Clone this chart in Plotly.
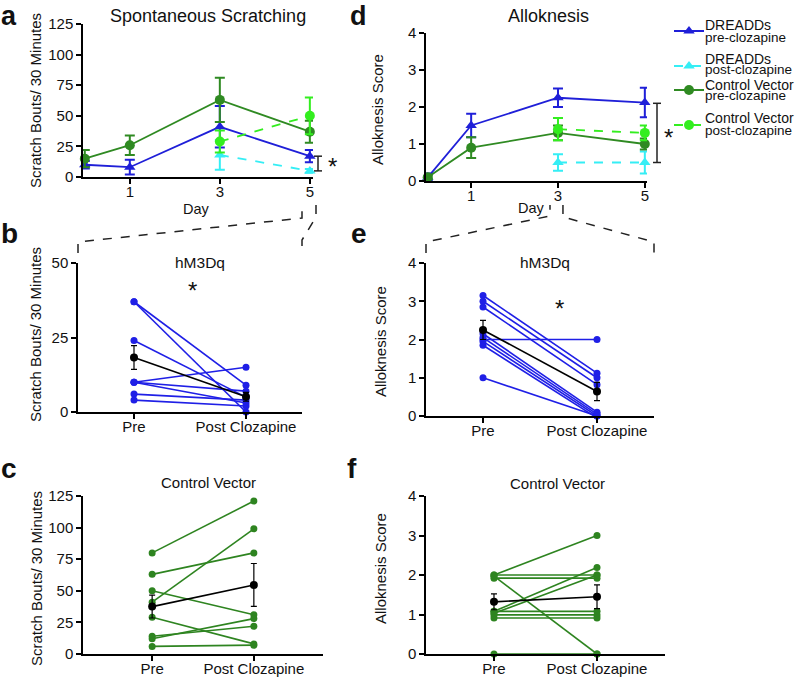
import plotly.graph_objects as go

W, H = 800, 679
FONT = "Liberation Sans, Arial, sans-serif"

def fx(px):
    return px / W

def fy(py):
    return 1 - py / H

# ---------------- data ----------------
days_pre = [0, 1, 3, 5]
days_post = [3, 5]

scratch_dreadd_pre = [10, 8, 41, 17]
scratch_dreadd_pre_err = [3, 6, 17, 5]
scratch_dreadd_post = [18, 5]
scratch_dreadd_post_err = [12, 1.5]
scratch_ctrl_pre = [15, 26, 63, 37]
scratch_ctrl_pre_err = [7, 8, 18, 9]
scratch_ctrl_post = [29, 50]
scratch_ctrl_post_err = [9, 15]

allo_dreadd_pre = [0.1, 1.5, 2.25, 2.12]
allo_dreadd_pre_err = [0.1, 0.32, 0.25, 0.4]
allo_dreadd_post = [0.5, 0.5]
allo_dreadd_post_err = [0.22, 0.3]
allo_ctrl_pre = [0.1, 0.9, 1.3, 1.0]
allo_ctrl_pre_err = [0.05, 0.28, 0.2, 0.15]
allo_ctrl_post = [1.4, 1.3]
allo_ctrl_post_err = [0.3, 0.2]

hm3dq_scratch_pre = [37, 37, 24, 10, 10, 10, 6, 4]
hm3dq_scratch_post = [9, 0, 5, 15, 7, 3, 4, 2]
hm3dq_scratch_mean = [18.3, 5.1]
hm3dq_scratch_sem = [4.0, 1.5]

hm3dq_allo_pre = [3.15, 3.0, 2.85, 2.0, 2.15, 2.05, 1.95, 1.85, 1.0]
hm3dq_allo_post = [1.12, 1.0, 0.82, 2.0, 0.1, 0.05, 0.0, -0.05, 0.0]
hm3dq_allo_mean = [2.25, 0.64]
hm3dq_allo_sem = [0.25, 0.24]

ctrl_scratch_pre = [80, 63, 41, 50, 29, 14, 12, 6]
ctrl_scratch_post = [121, 80, 99, 31, 8, 22, 28, 7]
ctrl_scratch_mean = [37.5, 54.6]
ctrl_scratch_sem = [9, 17]

ctrl_allo_pre = [2.0, 2.0, 1.92, 1.97, 1.08, 1.03, 1.08, 0.99, 0.91, 0.0]
ctrl_allo_post = [3.0, 2.0, 1.92, 0.0, 2.19, 2.0, 1.08, 0.99, 0.91, 0.0]
ctrl_allo_mean = [1.32, 1.45]
ctrl_allo_sem = [0.2, 0.3]

phase_vals = [0, 1]
phase_labels = ["Pre", "Post Clozapine"]
day_ticks = [1, 3, 5]

legend_line1 = ["DREADDs", "DREADDs", "Control Vector", "Control Vector"]
legend_line2 = ["pre-clozapine", "post-clozapine", "pre-clozapine", "post-clozapine"]

BLUE = "#1f1fd8"
CYAN = "#35eef5"
DKGREEN = "#2f8a22"
LTGREEN = "#33ee1f"
PBLUE = "#1f1fe6"
PGREEN = "#2e8420"

fig = go.Figure()

def series(x, y, err, color, symbol, dash, xa, ya, legend=None):
    fig.add_trace(go.Scatter(
        x=x, y=y, mode="lines+markers", name="",
        line=dict(color=color, width=1.8, dash=dash),
        marker=dict(color=color, symbol=symbol, size=10),
        error_y=dict(type="data", array=err, color=color, thickness=2, width=5),
        xaxis=xa, yaxis=ya, showlegend=legend is not None,
        legend=legend if legend else "legend", cliponaxis=False,
    ))

# panel a (carries the legend keys)
series(days_pre, scratch_dreadd_pre, scratch_dreadd_pre_err, BLUE, "triangle-up", "solid", "x", "y", "legend")
series(days_post, scratch_dreadd_post, scratch_dreadd_post_err, CYAN, "triangle-up", "dash", "x", "y", "legend2")
series(days_pre, scratch_ctrl_pre, scratch_ctrl_pre_err, DKGREEN, "circle", "solid", "x", "y", "legend3")
series(days_post, scratch_ctrl_post, scratch_ctrl_post_err, LTGREEN, "circle", "dash", "x", "y", "legend4")
# panel d
series(days_pre, allo_dreadd_pre, allo_dreadd_pre_err, BLUE, "triangle-up", "solid", "x2", "y2")
series(days_post, allo_dreadd_post, allo_dreadd_post_err, CYAN, "triangle-up", "dash", "x2", "y2")
series(days_pre, allo_ctrl_pre, allo_ctrl_pre_err, DKGREEN, "circle", "solid", "x2", "y2")
series(days_post, allo_ctrl_post, allo_ctrl_post_err, LTGREEN, "circle", "dash", "x2", "y2")

def paired(pre, post, mean, sem, color, xa, ya):
    xs, ys = [], []
    for a, b in zip(pre, post):
        xs += [phase_vals[0], phase_vals[1], None]
        ys += [a, b, None]
    fig.add_trace(go.Scatter(
        x=xs, y=ys, mode="lines+markers",
        line=dict(color=color, width=1.6),
        marker=dict(color=color, size=7),
        xaxis=xa, yaxis=ya, showlegend=False, cliponaxis=False,
    ))
    fig.add_trace(go.Scatter(
        x=phase_vals, y=mean, mode="lines+markers",
        line=dict(color="black", width=1.6),
        marker=dict(color="black", size=8),
        error_y=dict(type="data", array=sem, color="black", thickness=1.2, width=3),
        xaxis=xa, yaxis=ya, showlegend=False, cliponaxis=False,
    ))

paired(hm3dq_scratch_pre, hm3dq_scratch_post, hm3dq_scratch_mean, hm3dq_scratch_sem, PBLUE, "x3", "y3")
paired(hm3dq_allo_pre, hm3dq_allo_post, hm3dq_allo_mean, hm3dq_allo_sem, PBLUE, "x4", "y4")
paired(ctrl_scratch_pre, ctrl_scratch_post, ctrl_scratch_mean, ctrl_scratch_sem, PGREEN, "x5", "y5")
paired(ctrl_allo_pre, ctrl_allo_post, ctrl_allo_mean, ctrl_allo_sem, PGREEN, "x6", "y6")

axis_common = dict(
    showline=True, linecolor="black", linewidth=1.5,
    ticks="outside", ticklen=5, tickwidth=1.5, tickcolor="black",
    showgrid=False, zeroline=False, automargin=False,
    tickfont=dict(family=FONT, size=15, color="#111"),
)

def xax(px0, px1, rng, tickvals, ticktext, anchor):
    d = dict(axis_common)
    d.update(domain=[fx(px0), fx(px1)], range=rng, tickvals=tickvals,
             ticktext=ticktext, anchor=anchor, ticklabelstandoff=-5)
    return d

def yax(py_bottom, py_top, rng, tickvals, anchor):
    d = dict(axis_common)
    d.update(domain=[fy(py_bottom), fy(py_top)], range=rng, tickvals=tickvals, anchor=anchor)
    return d

def leg(py):
    return dict(x=fx(669), y=fy(py), xanchor="left", yanchor="middle",
                font=dict(family=FONT, size=12, color="#111"),
                bgcolor="rgba(0,0,0,0)", itemwidth=30, borderwidth=0)

fig.update_layout(
    template="none",
    width=W, height=H,
    margin=dict(l=0, r=0, t=0, b=0, pad=0, autoexpand=False),
    paper_bgcolor="white", plot_bgcolor="white",
    font=dict(family=FONT, color="#111"),
    xaxis=xax(83, 313, [-0.04, 5.07], day_ticks, [str(v) for v in day_ticks], "y"),
    yaxis=yax(177, 24, [0, 125], [0, 25, 50, 75, 100, 125], "x"),
    xaxis2=xax(426, 647, [-0.04, 5.05], day_ticks, [str(v) for v in day_ticks], "y2"),
    yaxis2=yax(181, 33, [0, 4], [0, 1, 2, 3, 4], "x2"),
    xaxis3=xax(78, 302, [-0.5, 1.5], phase_vals, phase_labels, "y3"),
    yaxis3=yax(412, 263, [0, 50], [0, 25, 50], "x3"),
    xaxis4=xax(426, 654, [-0.5, 1.5], phase_vals, phase_labels, "y4"),
    yaxis4=yax(416, 263, [0, 4], [0, 1, 2, 3, 4], "x4"),
    xaxis5=xax(83, 323, [-0.68, 1.68], phase_vals, phase_labels, "y5"),
    yaxis5=yax(654, 496, [0, 125], [0, 25, 50, 75, 100, 125], "x5"),
    xaxis6=xax(426, 665, [-0.66, 1.66], phase_vals, phase_labels, "y6"),
    yaxis6=yax(654, 496, [0, 4], [0, 1, 2, 3, 4], "x6"),
    legend=leg(31), legend2=leg(66), legend3=leg(90), legend4=leg(125),
)

ann = []
def text(px, py, s, size, bold=False, angle=0, xanchor="center", yanchor="middle", pad=1):
    ann.append(dict(x=fx(px), y=fy(py), xref="paper", yref="paper", text=("<b>%s</b>" % s) if bold else s,
                    showarrow=False, textangle=angle, xanchor=xanchor, yanchor=yanchor, borderpad=pad,
                    font=dict(family=FONT, size=size, color="#111")))

# panel letters
text(9, 0, "a", 27, True, yanchor="top", pad=0)
text(358, 0, "d", 27, True, yanchor="top", pad=0)
text(9, 233, "b", 28, True)
text(359, 233, "e", 28, True)
text(9, 468, "c", 28, True)
text(352, 468, "f", 28, True)
# titles
text(208, 16, "Spontaneous Scratching", 18)
text(548, 16, "Alloknesis", 18)
text(200, 263, "hM3Dq", 15.5)
text(545, 262, "hM3Dq", 15.5)
text(208, 482, "Control Vector", 15)
text(557, 483, "Control Vector", 15)
# y titles
text(35, 101, "Scratch Bouts/ 30 Minutes", 15, angle=-90)
text(35, 335, "Scratch Bouts/ 30 Minutes", 15, angle=-90)
text(36, 579, "Scratch Bouts/ 30 Minutes", 15, angle=-90)
text(378, 110, "Alloknesis Score", 15, angle=-90)
text(380, 342, "Alloknesis Score", 15, angle=-90)
text(380, 569, "Alloknesis Score", 15, angle=-90)
# x titles
text(196, 209, "Day", 14.5)
text(531, 208, "Day", 14.5)
# asterisks
text(192, 290, "*", 24)
text(559, 309, "*", 24)
text(332, 166, "*", 24)
text(668, 138, "*", 24)
# legend labels
legend_rows = [(25, 37), (59, 70), (85, 96), (118, 130)]
for (y1, y2), t1, t2 in zip(legend_rows, legend_line1, legend_line2):
    text(704, y1, t1, 14, xanchor="left", pad=0)
    text(704, y2, t2, 13.5, xanchor="left", pad=0)
fig.update_layout(annotations=ann)

shapes = []
def dashed(points):
    path = "M " + " L ".join("%.4f,%.4f" % (fx(a), fy(b)) for a, b in points)
    shapes.append(dict(type="path", path=path, xref="paper", yref="paper",
                       line=dict(color="#222", width=1.5, dash="dash")))

dashed([(78, 253), (78, 242), (302, 218), (302, 205)])
dashed([(316, 205), (316, 217), (302, 240), (302, 253)])
dashed([(426, 253), (426, 242), (550, 216), (550, 205)])
dashed([(563, 205), (563, 217), (654, 242), (654, 253)])

def bracket(px, y0, y1, yref):
    for (xa, ya, xb, yb) in [(px, y0, px, y1), (px - 4, y0, px + 4, y0), (px - 4, y1, px + 4, y1)]:
        shapes.append(dict(type="line", xref="paper", yref=yref, x0=fx(xa), x1=fx(xb), y0=ya, y1=yb,
                           line=dict(color="#222", width=1.5)))

bracket(318, scratch_dreadd_post[-1], scratch_dreadd_pre[-1], "y")
bracket(657, allo_dreadd_post[-1], 2.1, "y2")
fig.update_layout(shapes=shapes)

fig.write_html("out.html", config={"displayModeBar": False},
               post_script="document.body.style.margin='0px';")
